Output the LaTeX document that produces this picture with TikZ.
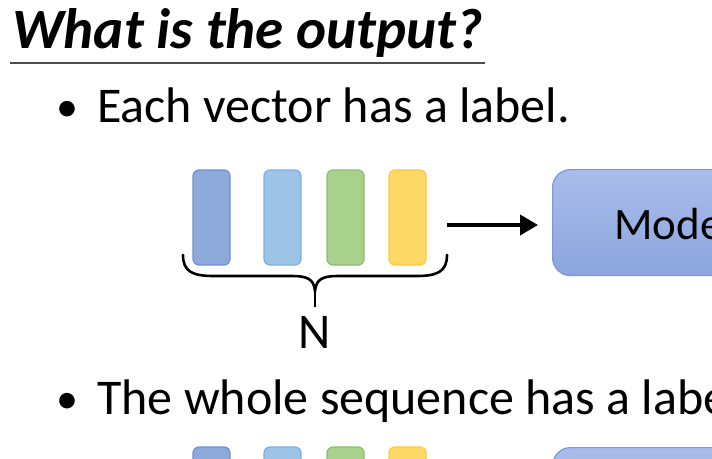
\documentclass[tikz,border=0pt]{standalone}
\usepackage{fontspec}
\setmainfont{Carlito}
\usetikzlibrary{arrows.meta,calc}
\definecolor{b1f}{HTML}{8EA9DB}\definecolor{b1d}{HTML}{6F8FD2}
\definecolor{b2f}{HTML}{9DC3E6}\definecolor{b2d}{HTML}{7EAEE2}
\definecolor{b3f}{HTML}{A9D18E}\definecolor{b3d}{HTML}{8BBE6C}
\definecolor{b4f}{HTML}{FFD966}\definecolor{b4d}{HTML}{FFC83F}
\definecolor{mtop}{HTML}{AABDEA}\definecolor{mbot}{HTML}{8CA5DF}\definecolor{mdr}{HTML}{7B97D7}
\tikzset{
  vec/.style={draw=#1d, fill=#1f, line width=1.2pt, rounded corners=6pt},
  modelbox/.style={draw=mdr, line width=1.2pt, top color=mtop, bottom color=mbot, rounded corners=18pt},
  bodytext/.style={inner sep=0pt, font=\fontsize{50}{60}\selectfont},
}
\begin{document}
\begin{tikzpicture}[x=1pt,y=-1pt]
\useasboundingbox (0,0) rectangle (712,458);
\clip (0,0) rectangle (712,458);
\fill[white] (0,0) rectangle (712,458);
% title
\node[anchor=base west, inner sep=0pt, font=\fontsize{57}{66}\selectfont\bfseries\itshape] (title) at (12,48) {What is the output?};
\draw[line width=1.5pt, black!70] (10,63) -- (485,63);
% bullet 1
\node[inner sep=0pt, anchor=base west, font=\fontsize{44}{52}\selectfont] (dot1) at (56,121) {•};
\node[bodytext, anchor=base west] (t1) at (97,122) {Each vector has a label.};
% bars
\foreach \c/\x in {b1/193, b2/264, b3/327, b4/389}{
  \path[vec=\c] (\x,170) rectangle ++(37,95);
}
% brace
\draw[line width=2.6pt, line cap=round] (183,255) .. controls (183,272) and (193,276) .. (214,276) -- (292,276) .. controls (307,276) and (314,279) .. (315,291)
  .. controls (316,279) and (323,276) .. (338,276) -- (416,276) .. controls (437,276) and (447,272) .. (447,255);
\draw[line width=2.6pt] (315,289) -- (315,307);
\node[inner sep=0pt, font=\fontsize{50}{60}\selectfont, anchor=base] (N) at (315,348) {N};
% model
\node[modelbox, anchor=north west, minimum width=300pt, minimum height=106pt] (model) at (552,169) {};
\node[anchor=base west, inner sep=0pt, font=\fontsize{45}{54}\selectfont] (mtext) at (614,239) {Model};
% arrow
\coordinate (as) at (447,225);
\draw[line width=4pt, -{Triangle[length=18pt,width=20pt]}, shorten >=14pt] (as) -- (model.west |- as);
% bullet 2
\node[inner sep=0pt, anchor=base west, font=\fontsize{44}{52}\selectfont] (dot2) at (56,413) {•};
\node[bodytext, anchor=base west] (t2) at (97,414) {The whole sequence has a label.};
% bottom partial row
\foreach \c/\x in {b1/193, b2/264, b3/327, b4/389}{
  \path[vec=\c] (\x,447) rectangle ++(37,95);
}
\node[modelbox, anchor=north west, minimum width=300pt, minimum height=106pt] (model2) at (552,447) {};
\end{tikzpicture}
\end{document}
